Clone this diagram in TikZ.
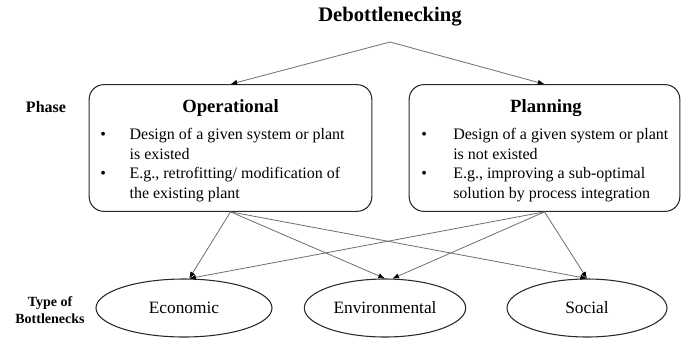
\documentclass[tikz,border=0pt]{standalone}
\usepackage{fontspec}
\setmainfont{Liberation Serif}
\usepackage{xcolor}
\usetikzlibrary{arrows.meta,positioning,shapes.geometric}

\definecolor{inkgray}{HTML}{2A2A2A}
\definecolor{wiregray}{HTML}{6E6E6E}

\newcommand{\listfont}{\fontsize{12}{14.6}\selectfont}

\begin{document}
\begin{tikzpicture}[x=0.75pt,y=-0.75pt,>={Latex[length=5pt,width=4pt,color=black]},
  phase/.style={draw=inkgray,line width=0.8pt,rounded corners=11pt,minimum height=95pt},
  kind/.style={ellipse,draw=inkgray,line width=0.8pt,minimum height=43.5pt,font=\fontsize{13}{15}\selectfont},
  tag/.style={font=\bfseries\fontsize{12}{13}\selectfont,align=center},
  head/.style={font=\bfseries\fontsize{14}{16}\selectfont},
  points/.style={anchor=north west,inner sep=0pt,font=\listfont},
  link/.style={draw=wiregray,line width=0.6pt}]
  \useasboundingbox (0,0) rectangle (681,339);

  \node[font=\bfseries\fontsize{15.5}{18}\selectfont] (title) at (390,17) {Debottlenecking};
  \coordinate (split) at (390,42);

  % phase boxes
  \node[phase,minimum width=212pt] (op) at (230.5,148) {};
  \node[phase,minimum width=203pt] (pl) at (544.5,148) {};
  \node[head] (ophead) at (230.5,108) {Operational};
  \node[head] (plhead) at (546,108) {Planning};

  \node[points] (oplist) at (100,126) {\begin{tabular}{@{}p{22pt}@{}l@{}}
    \textbullet & Design of a given system or plant\\
                & is existed\\
    \textbullet & E.g., retrofitting/ modification of\\
                & the existing plant
  \end{tabular}};
  \node[points] (pllist) at (421,126) {\begin{tabular}{@{}p{24pt}@{}l@{}}
    \textbullet & Design of a given system or plant\\
                & is not existed\\
    \textbullet & E.g., improving a sub-optimal\\
                & solution by process integration
  \end{tabular}};

  % bottleneck types
  \node[kind,minimum width=132pt] (econ) at (184,308) {Economic};
  \node[kind,minimum width=121pt] (envi) at (385,308) {Environmental};
  \node[kind,minimum width=120pt] (soc)  at (587,308) {Social};

  \node[tag] (phase) at (46,107) {Phase};
  \node[tag,font=\bfseries\fontsize{10.5}{12.8}\selectfont] (types) at (50,310) {Type of\\Bottlenecks};

  \path[->] (split) edge[link] (op.north)
                    edge[link] (pl.north)
        (op.south) edge[link] (econ.80)
                   edge[link] (envi.north)
                   edge[link] (soc.north)
        (pl.south) edge[link] (econ.80)
                   edge[link] (envi.76)
                   edge[link] (soc.north);
\end{tikzpicture}
\end{document}
